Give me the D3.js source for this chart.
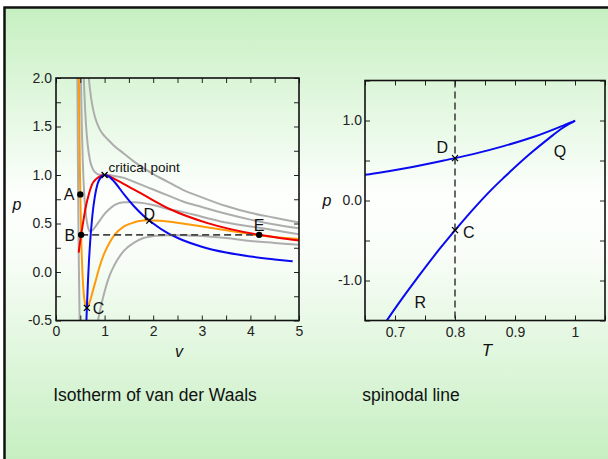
<!DOCTYPE html>
<meta charset="utf-8">
<script src="https://cdn.jsdelivr.net/npm/d3@7"></script>
<style>
body { margin: 0; background: #fff; }
svg text { font-family: "Liberation Sans", Arial, sans-serif; fill: #111; }
.tk line { stroke: #222; stroke-width: 1px; }
.tk .domain { display: none; }
.lb .domain, .lb line { display: none; }
.lb text { font-size: 14px; fill: #222; }
</style>
<body>
<div id="chart"></div>
<script>
// isotherms in reduced units [v, p]
var iso07 = [[0.42,4.53],[0.43,3.08],[0.44,2.00],[0.45,1.19],[0.46,0.56],[0.47,0.08],[0.48,-0.29],[0.50,-0.80],
  [0.60,-1.33],[0.70,-1.03],[0.80,-0.69],[0.85,-0.54],[0.90,-0.41],[1.0,-0.20],[1.1,-0.04],[1.2,0.07],[1.4,0.22],
  [1.6,0.30],[1.8,0.35],[2.0,0.37],[2.3,0.38],[2.6,0.38],[3.0,0.37],[3.5,0.35],[4.0,0.32],[4.5,0.30],[5.0,0.28]];
var iso08 = [[0.45,3.47],[0.46,2.66],[0.47,2.03],[0.48,1.53],[0.49,1.12],[0.50,0.80],[0.51,0.54],[0.52,0.335],
  [0.53,0.17],[0.55,-0.07],[0.57,-0.22],[0.60,-0.33],[0.635,-0.37],[0.65,-0.36],[0.70,-0.30],[0.75,-0.21],
  [0.80,-0.12],[0.90,0.06],[1.0,0.20],[1.1,0.30],[1.2,0.38],[1.4,0.47],[1.6,0.51],[1.8,0.53],[2.0,0.53],
  [2.3,0.52],[2.6,0.50],[3.0,0.47],[3.5,0.43],[4.0,0.39],[4.5,0.36],[5.0,0.34]];
var iso09 = [[0.49,2.83],[0.50,2.40],[0.51,2.05],[0.52,1.76],[0.53,1.52],[0.55,1.16],[0.56,1.02],[0.58,0.81],
  [0.60,0.67],[0.65,0.48],[0.70,0.42],[0.75,0.43],[0.80,0.46],[0.90,0.53],[1.0,0.60],[1.1,0.65],[1.2,0.69],
  [1.4,0.72],[1.6,0.72],[1.8,0.71],[2.0,0.69],[2.3,0.65],[2.6,0.62],[3.0,0.57],[3.5,0.51],[4.0,0.47],[4.5,0.43],[5.0,0.39]];
var iso10 = [[0.53,2.88],[0.55,2.39],[0.57,2.03],[0.60,1.67],[0.62,1.50],[0.65,1.32],[0.70,1.15],[0.75,1.07],
  [0.80,1.03],[0.90,1.002],[1.0,1.0],[1.1,0.999],[1.2,0.99],[1.4,0.97],[1.6,0.93],[1.8,0.89],[2.0,0.85],
  [2.3,0.79],[2.6,0.73],[3.0,0.67],[3.5,0.60],[4.0,0.54],[4.5,0.49],[5.0,0.45]];
var iso11 = [[0.60,2.67],[0.62,2.43],[0.65,2.16],[0.67,2.03],[0.70,1.88],[0.75,1.71],[0.80,1.60],[0.90,1.47],
  [1.0,1.40],[1.1,1.35],[1.2,1.30],[1.4,1.22],[1.6,1.14],[1.8,1.07],[2.0,1.01],[2.3,0.93],[2.6,0.85],
  [3.0,0.77],[3.5,0.68],[4.0,0.61],[4.5,0.56],[5.0,0.51]];
var grayIsotherms = [iso07, iso09, iso10, iso11];

// coexistence curve (red) and spinodal (blue) in the v-p plane
var binodal = [[0.467,0.20],[0.49,0.29],[0.517,0.383],[0.556,0.504],[0.603,0.647],[0.68,0.81],[0.74,0.90],
  [0.83,0.96],[0.92,0.99],[1.0,1.0],[1.08,0.99],[1.2,0.96],[1.42,0.90],[1.75,0.81],[2.35,0.647],[3.12,0.504],
  [4.18,0.383],[4.6,0.35],[5.0,0.325]];
var spinodalVP = [[0.62,-0.59],[0.63,-0.44],[0.64,-0.31],[0.66,-0.07],[0.68,0.13],[0.70,0.29],[0.75,0.59],
  [0.80,0.78],[0.85,0.90],[0.90,0.96],[1.0,1.0],[1.1,0.98],[1.2,0.93],[1.4,0.80],[1.6,0.68],[1.8,0.58],
  [2.0,0.50],[2.3,0.40],[2.6,0.33],[3.0,0.26],[3.5,0.20],[4.0,0.16],[4.5,0.13],[4.87,0.11]];

// spinodal line in the T-p plane
var spinUpper = [[0.640,0.31],[0.676,0.35],[0.715,0.40],[0.781,0.50],[0.830,0.58],[0.881,0.68],[0.933,0.80],
  [0.978,0.93],[0.994,0.98],[0.998,0.99],[1.0,1.0]];
var spinLower = [[0.680,-1.57],[0.702,-1.33],[0.741,-0.93],[0.776,-0.59],[0.807,-0.31],[0.835,-0.07],
  [0.860,0.13],[0.882,0.29],[0.926,0.59],[0.957,0.78],[0.978,0.90],[0.991,0.96],[0.998,0.99],[1.0,1.0]];

var pSat = 0.383, T0 = 0.8;
var dots = [{n:"A", v:0.50, p:0.80}, {n:"B", v:0.517, p:0.383}, {n:"E", v:4.18, p:0.383}];
var crosses = [{n:"C", v:0.635, p:-0.37}, {n:"D", v:1.92, p:0.53}, {n:"critical point", v:1.0, p:1.0}];
var crossesTP = [{n:"D", T:0.8, p:0.53}, {n:"C", T:0.8, p:-0.37}];

var vTicks = [0, 1, 2, 3, 4, 5];
var pTicks = [-0.5, 0, 0.5, 1, 1.5, 2];
var tTicks = [0.7, 0.8, 0.9, 1];
var p2Ticks = [-1, 0, 1];

var W = 608, H = 459;
var svg = d3.select("#chart").append("svg").attr("width", W).attr("height", H);

var grad = svg.append("defs").append("linearGradient").attr("id", "bg")
    .attr("gradientUnits", "userSpaceOnUse").attr("x1", 0).attr("x2", 0).attr("y1", 7).attr("y2", H);
grad.append("stop").attr("offset", 0).attr("stop-color", "#c6efc1");
grad.append("stop").attr("offset", 0.42).attr("stop-color", "#fdfffd");
grad.append("stop").attr("offset", 0.55).attr("stop-color", "#f8fdf7");
grad.append("stop").attr("offset", 1).attr("stop-color", "#c6efc1");

svg.append("rect").attr("x", 4.5).attr("y", 7.5).attr("width", 700).attr("height", 600)
    .attr("fill", "url(#bg)").attr("stroke", "#111").attr("stroke-width", 2.5);

// plain hyphen minus, one decimal
var fmt1 = function(d) { return d.toFixed(1); };

// ---------- left: isotherms ----------
var x = d3.scaleLinear().domain([0, 5]).range([56, 299]);
var y = d3.scaleLinear().domain([-0.5, 2]).range([320.5, 78]);

svg.select("defs").append("clipPath").attr("id", "clipL").append("rect")
    .attr("x", 56).attr("y", 78).attr("width", 243).attr("height", 242.5);

var gL = svg.append("g");
var line = d3.line().x(function(d) { return x(d[0]); }).y(function(d) { return y(d[1]); }).curve(d3.curveMonotoneX);
var curves = gL.append("g").attr("clip-path", "url(#clipL)").attr("fill", "none").attr("stroke-width", 2);

grayIsotherms.forEach(function(c) {
  curves.append("path").datum(c).attr("d", line).attr("stroke", "#adadad");
});
curves.append("path").datum(iso08).attr("d", line).attr("stroke", "#ff9a0a");
curves.append("path").datum(binodal).attr("d", line).attr("stroke", "#f20000");
curves.append("path").datum(spinodalVP).attr("d", line).attr("stroke", "#0a0af0");

gL.append("line").attr("x1", x(dots[1].v)).attr("x2", x(dots[2].v)).attr("y1", y(pSat)).attr("y2", y(pSat))
    .attr("stroke", "#444").attr("stroke-width", 1.6).attr("stroke-dasharray", "7,4");

function axes(g, xs, ys, xMinor, yMinor) {
  var r = xs.range(), d = ys.range();
  g.append("g").attr("class", "tk").attr("transform", "translate(0," + d[0] + ")")
      .call(d3.axisBottom(xs).tickValues(xMinor).tickSize(-5).tickFormat(""));
  g.append("g").attr("class", "tk").attr("transform", "translate(0," + d[1] + ")")
      .call(d3.axisTop(xs).tickValues(xMinor).tickSize(-5).tickFormat(""));
  g.append("g").attr("class", "tk").attr("transform", "translate(" + r[0] + ",0)")
      .call(d3.axisLeft(ys).tickValues(yMinor).tickSize(-5).tickFormat(""));
  g.append("g").attr("class", "tk").attr("transform", "translate(" + r[1] + ",0)")
      .call(d3.axisRight(ys).tickValues(yMinor).tickSize(-5).tickFormat(""));
  g.append("rect").attr("x", r[0]).attr("y", d[1]).attr("width", r[1] - r[0]).attr("height", d[0] - d[1])
      .attr("fill", "none").attr("stroke", "#111").attr("stroke-width", 1.6);
}

axes(gL, x, y, d3.range(0, 5.01, 0.5), d3.range(-0.5, 2.01, 0.25));
gL.append("g").attr("class", "lb").attr("transform", "translate(0,320.5)")
    .call(d3.axisBottom(x).tickValues(vTicks).tickSize(0).tickPadding(6).tickFormat(d3.format("d")));
gL.append("g").attr("class", "lb").attr("transform", "translate(56,0)")
    .call(d3.axisLeft(y).tickValues(pTicks).tickSize(0).tickPadding(4).tickFormat(fmt1));

gL.selectAll(".dot").data(dots).enter().append("circle")
    .attr("cx", function(d) { return x(d.v); }).attr("cy", function(d) { return y(d.p); })
    .attr("r", 3.2).attr("fill", "#000");
var cross = "M-3,-3L3,3M-3,3L3,-3";
gL.selectAll(".cr").data(crosses).enter().append("path").attr("d", cross)
    .attr("transform", function(d) { return "translate(" + x(d.v) + "," + y(d.p) + ")"; })
    .attr("stroke", "#000").attr("stroke-width", 1.3);

function lab(g, txt, px, py, anchor, size) {
  g.append("text").attr("x", px).attr("y", py).attr("text-anchor", anchor || "start")
      .style("font-size", (size || 16) + "px").text(txt);
}
lab(gL, "A", x(0.50) - 6, y(0.80) + 6, "end");
lab(gL, "B", x(0.517) - 6, y(0.383) + 6, "end");
lab(gL, "C", x(0.635) + 6, y(-0.37) + 6);
lab(gL, "D", x(1.92), y(0.53) - 1, "middle");
lab(gL, "E", x(4.18), y(0.383) - 4, "middle");
lab(gL, "critical point", x(1.0) + 4, y(1.0) - 3, "start", 13.5);

gL.append("text").attr("x", 179).attr("y", 357).attr("text-anchor", "middle")
    .style("font-size", "16px").style("font-style", "italic").text("v");
gL.append("text").attr("x", 17).attr("y", 210).attr("text-anchor", "middle")
    .style("font-size", "16px").style("font-style", "italic").text("p");
lab(gL, "Isotherm of van der Waals", 155, 401, "middle", 17.5);

// ---------- right: spinodal line ----------
var x2 = d3.scaleLinear().domain([0.65, 1.05]).range([365, 605]);
var y2 = d3.scaleLinear().domain([-1.5, 1.5]).range([320.5, 80.5]);

svg.select("defs").append("clipPath").attr("id", "clipR").append("rect")
    .attr("x", 365).attr("y", 80.5).attr("width", 240).attr("height", 240);

var gR = svg.append("g");
var line2 = d3.line().x(function(d) { return x2(d[0]); }).y(function(d) { return y2(d[1]); }).curve(d3.curveMonotoneX);
var curves2 = gR.append("g").attr("clip-path", "url(#clipR)").attr("fill", "none")
    .attr("stroke", "#0a0af0").attr("stroke-width", 2);
curves2.append("path").datum(spinUpper).attr("d", line2);
curves2.append("path").datum(spinLower).attr("d", line2);

gR.append("line").attr("x1", x2(T0)).attr("x2", x2(T0)).attr("y1", 80.5).attr("y2", 320.5)
    .attr("stroke", "#444").attr("stroke-width", 1.6).attr("stroke-dasharray", "7,4");

axes(gR, x2, y2, d3.range(0.65, 1.051, 0.05), d3.range(-1.5, 1.51, 0.5));
gR.append("g").attr("class", "lb").attr("transform", "translate(0,320.5)")
    .call(d3.axisBottom(x2).tickValues(tTicks).tickSize(0).tickPadding(7).tickFormat(function(d) { return d === 1 ? "1" : fmt1(d); }));
gR.append("g").attr("class", "lb").attr("transform", "translate(365,0)")
    .call(d3.axisLeft(y2).tickValues(p2Ticks).tickSize(0).tickPadding(3).tickFormat(fmt1));

gR.selectAll(".cr").data(crossesTP).enter().append("path").attr("d", cross)
    .attr("transform", function(d) { return "translate(" + x2(d.T) + "," + y2(d.p) + ")"; })
    .attr("stroke", "#000").attr("stroke-width", 1.3);

lab(gR, "D", x2(0.8) - 7, y2(0.53) - 5, "end");
lab(gR, "C", x2(0.8) + 8, y2(-0.37) + 8);
lab(gR, "Q", x2(0.975), y2(0.54), "middle");
lab(gR, "R", x2(0.742), y2(-1.34), "middle");

gR.append("text").attr("x", 487).attr("y", 356).attr("text-anchor", "middle")
    .style("font-size", "17px").style("font-style", "italic").text("T");
gR.append("text").attr("x", 327).attr("y", 206).attr("text-anchor", "middle")
    .style("font-size", "16px").style("font-style", "italic").text("p");
lab(gR, "spinodal line", 411, 401, "middle", 17.5);
</script>
</body>
